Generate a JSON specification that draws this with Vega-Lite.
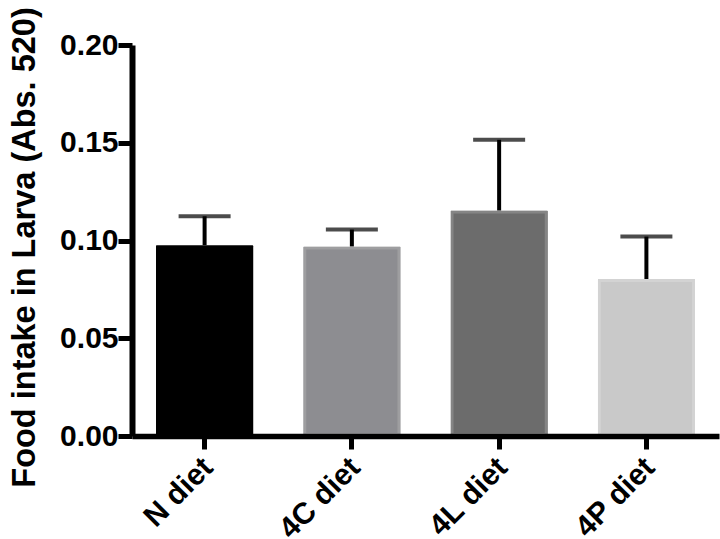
{
  "$schema": "https://vega.github.io/schema/vega-lite/v6.json",
  "width": 587,
  "height": 391,
  "autosize": {"type": "none"},
  "padding": {"left": 132, "top": 45, "right": 1, "bottom": 103},
  "background": "white",
  "config": {"view": {"stroke": null}, "font": "Liberation Sans"},
  "data": {"values": [
    {"diet": "N diet", "mean": 0.0976, "upper": 0.1124, "fill": "#000000", "edge": "#000000"},
    {"diet": "4C diet", "mean": 0.0969, "upper": 0.1056, "fill": "#8d8d91", "edge": "#9e9ea0"},
    {"diet": "4L diet", "mean": 0.1153, "upper": 0.1515, "fill": "#6c6c6c", "edge": "#858585"},
    {"diet": "4P diet", "mean": 0.0803, "upper": 0.1020, "fill": "#c9c9c9", "edge": "#d3d3d3"}
  ]},
  "encoding": {
    "x": {"field": "diet", "type": "nominal", "sort": null,
      "scale": {"paddingInner": 0.34, "paddingOuter": 0.163},
      "axis": {"title": null, "labelAngle": -45, "labelFont": "Liberation Sans", "labelFontWeight": "bold", "labelFontSize": 30, "labelColor": "#000", "labelLimit": 0, "labelOffset": -7, "domainColor": "#000", "domainWidth": 5.5, "tickColor": "#000", "tickWidth": 5, "tickSize": 13, "labelPadding": 3, "zindex": 1}}
  },
  "layer": [
    {"mark": {"type": "rule", "color": "#000", "strokeWidth": 4},
     "encoding": {"y": {"field": "mean", "type": "quantitative",
         "scale": {"domain": [0, 0.2]},
         "axis": {"title": "Food intake in Larva (Abs. 520)", "values": [0, 0.05, 0.1, 0.15, 0.2], "format": ".2f", "grid": false,
           "titleFont": "Liberation Sans", "titleFontWeight": "bold", "titleFontSize": 32.5, "titleColor": "#000", "titleX": -91, "titleY": 202,
           "labelFont": "Liberation Sans", "labelFontWeight": "bold", "labelFontSize": 30, "labelColor": "#000", "labelPadding": 0,
           "domainColor": "#000", "domainWidth": 6, "tickColor": "#000", "tickWidth": 5, "tickSize": 14, "zindex": 1}},
       "y2": {"field": "upper"}}},
    {"mark": {"type": "tick", "color": "#000", "thickness": 4, "size": 52, "orient": "horizontal"},
     "encoding": {"y": {"field": "upper", "type": "quantitative"}}},
    {"mark": {"type": "bar", "strokeWidth": 6, "strokeJoin": "round", "cornerRadius": 1},
     "encoding": {
       "y": {"field": "mean", "type": "quantitative"},
       "fill": {"field": "fill", "type": "nominal", "scale": null},
       "stroke": {"field": "edge", "type": "nominal", "scale": null}
     }}
  ]
}
